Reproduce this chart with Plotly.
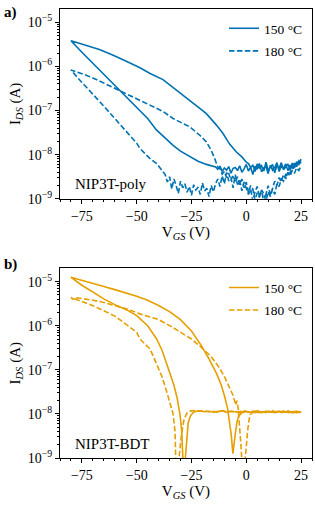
import plotly.graph_objects as go

# ---------------- data (log10 of I_DS in A) ----------------
# Panel a) NIP3T-poly, 150 °C : sweep +25 -> -80 (upper branch), then -80 -> +25 (lower branch)
a150_v_up_noise = list(range(25, 0, -1))
a150_i_up_noise = [-8.10,-8.22,-8.16,-8.30,-8.19,-8.36,-8.21,-8.27,-8.34,-8.18,-8.31,-8.24,-8.41,
                   -8.22,-8.28,-8.35,-8.17,-8.37,-8.25,-8.30,-8.21,-8.38,-8.24,-8.29,-8.20]
a150_v_up = [0,-2,-4.5,-7.6,-10.6,-13.6,-18.2,-21.2,-25,-28.8,-33.4,-38,-43.9,-48.5,-55,-61,-67,-73,-80]
a150_i_up = [-8.17,-8.05,-7.94,-7.76,-7.52,-7.33,-7.07,-6.95,-6.80,-6.66,-6.46,-6.30,-6.16,-6.03,-5.88,-5.74,-5.62,-5.52,-5.42]
a150_v_lo = [-75,-70,-65,-60,-55,-50,-45,-41,-37,-33.4,-30,-25.8,-22,-18.2,-15]
a150_i_lo = [-5.68,-5.93,-6.18,-6.43,-6.67,-6.92,-7.18,-7.44,-7.63,-7.79,-7.92,-8.05,-8.15,-8.22,-8.27]
a150_v_lo_noise = list(range(-14, 26))
a150_i_lo_noise = [-8.28,-8.33,-8.26,-8.38,-8.30,-8.35,-8.27,-8.42,-8.31,-8.29,-8.36,-8.25,-8.40,-8.32,
                   -8.22,-8.37,-8.28,-8.45,-8.26,-8.33,-8.20,-8.39,-8.30,-8.27,-8.43,-8.24,-8.35,-8.29,
                   -8.18,-8.38,-8.26,-8.32,-8.21,-8.36,-8.25,-8.30,-8.19,-8.27,-8.14,-8.20]

# Panel a) 180 °C
a180_v_up_noise = list(range(25, -13, -1))
a180_i_up_noise = [-8.15,-8.20,-8.17,-8.28,-8.35,-8.40,-8.50,-8.45,-8.60,-8.55,-8.72,-8.66,-8.90,
                   -8.78,-8.95,-8.84,-9.05,-8.88,-8.80,-8.97,-8.86,-9.03,-8.78,-8.70,-8.86,-8.62,
                   -8.75,-8.55,-8.68,-8.50,-8.63,-8.46,-8.58,-8.42,-8.52,-8.38,-8.44,-8.32]
a180_v_up = [-13,-14.4,-16,-18.2,-21.2,-25.8,-29.5,-33.4,-38,-43.9,-48.5,-55,-60.6,-67,-73,-80]
a180_i_up = [-8.28,-8.09,-7.90,-7.71,-7.56,-7.37,-7.27,-7.18,-7.02,-6.88,-6.76,-6.60,-6.48,-6.33,-6.20,-6.08]
a180_v_lo = [-76,-70,-65,-60,-55,-50,-48.5,-43.9,-40.9,-38]
a180_i_lo = [-6.31,-6.62,-6.90,-7.18,-7.46,-7.74,-7.86,-8.09,-8.20,-8.38]
a180_v_lo_noise = list(range(-37, 26))
a180_i_lo_noise = [-8.45,-8.62,-8.50,-8.78,-8.55,-8.70,-8.88,-8.60,
                   -8.75,-8.66,-8.85,-8.72,-8.92,-8.68,-8.80,-8.74,-8.90,-8.64,-8.82,-8.76,-8.95,-8.70,-8.84,-8.66,
                   -8.55,-8.72,-8.48,-8.66,-8.40,-8.60,-8.52,-8.75,-8.45,-8.68,-8.58,-8.82,-8.62,-8.76,
                   -8.90,-8.78,-9.05,-8.84,-8.72,-8.95,-8.80,-9.08,-8.86,-8.70,-8.92,-8.76,
                   -8.60,-8.70,-8.52,-8.62,-8.45,-8.55,-8.40,-8.48,-8.35,-8.42,-8.30,-8.36,-8.25]

# Panel b) NIP3T-BDT, 150 °C : +25 -> plateau -> dip -> outer branch -> -80 -> inner branch -> dip -> plateau -> +25
b150_v_pl1 = list(range(25, -3, -1))
b150_i_pl1 = [-7.97,-7.95,-7.96,-7.94,-7.97,-7.95,-7.93,-7.96,-7.95,-7.97,-7.94,-7.96,-7.95,-7.93,
              -7.96,-7.94,-7.97,-7.95,-7.96,-7.94,-7.95,-7.97,-7.94,-7.96,-7.95,-7.94,-7.96,-7.97]
b150_v_out = [-3.5,-4.3,-5,-5.6,-6.1,-6.8,-7.6,-8.5,-9.9,-11.5,-13.6,-17,-20.5,-25,-30,-35,-40,-45,-50,-55,-60,-65,-70,-75,-80]
b150_i_out = [-8.05,-8.20,-8.45,-8.70,-8.90,-8.50,-8.15,-7.88,-7.60,-7.33,-7.08,-6.75,-6.45,-6.12,-5.86,
              -5.68,-5.54,-5.42,-5.33,-5.25,-5.18,-5.11,-5.04,-4.97,-4.90]
b150_v_in = [-75,-70,-65,-60,-54.5,-50,-45,-40.9,-38.5,-36.4,-34.9,-33,-31.5,-30.3,-29.5,-28.8,-28.4,
             -27.8,-27.2,-26.5,-25.5,-24.3]
b150_i_in = [-5.08,-5.24,-5.39,-5.52,-5.64,-5.77,-6.00,-6.30,-6.55,-6.85,-7.05,-7.35,-7.65,-8.00,-8.35,
             -9.00,-9.60,-9.00,-8.55,-8.20,-8.05,-7.97]
b150_v_pl2 = list(range(-23, 26, 2))
b150_i_pl2 = [-7.94,-7.93,-7.95,-7.94,-7.96,-7.95,-7.93,-7.96,-7.94,-7.95,-7.97,-7.94,-7.96,
              -7.95,-7.93,-7.96,-7.94,-7.95,-7.97,-7.95,-7.94,-7.96,-7.95,-7.97,-7.96]

# Panel b) 180 °C
b180_v_pl1 = list(range(25, 2, -2))
b180_i_pl1 = [-7.96,-7.94,-7.95,-7.97,-7.94,-7.96,-7.95,-7.93,-7.96,-7.95,-7.97,-7.96]
b180_v_out = [1.8,1.2,0.6,0,-0.8,-1.5,-2.3,-3,-3.7,-4.3,-4.8,-6,-7.6,-10,-12.3,-16,-20.5,-25,-27.3,
              -33.4,-40,-48.5,-54.5,-60,-65,-70,-75,-78,-79,-80]
b180_i_out = [-8.02,-8.15,-8.40,-8.80,-9.50,-9.60,-8.80,-8.20,-7.86,-7.70,-7.80,-7.58,-7.40,-7.15,-6.95,
              -6.70,-6.49,-6.30,-6.23,-6.04,-5.86,-5.73,-5.62,-5.54,-5.47,-5.42,-5.38,-5.36,-5.40,-5.36]
b180_v_in = [-75,-69.7,-65,-60,-54.5,-50,-48.5,-43.9,-40.9,-38.5,-36.4,-34.8,-33.4,-32.5,-31.9,-31.2,
             -30.5,-29.5,-28.5,-27.5,-26.5]
b180_i_in = [-5.45,-5.55,-5.66,-5.78,-5.98,-6.15,-6.30,-6.53,-6.87,-7.15,-7.48,-7.75,-8.00,-8.40,-9.60,
             -9.40,-8.90,-8.45,-8.15,-8.02,-7.95]
b180_v_pl2 = list(range(-25, 26, 2))
b180_i_pl2 = [-7.93,-7.92,-7.94,-7.93,-7.95,-7.94,-7.96,-7.93,-7.95,-7.94,-7.96,-7.95,-7.93,
              -7.96,-7.94,-7.95,-7.97,-7.94,-7.96,-7.95,-7.94,-7.96,-7.95,-7.97,-7.96,-7.95]

labels = ["150 °C", "180 °C"]
y_decades = [-9, -8, -7, -6, -5]
x_ticks = [-75, -50, -25, 0, 25]

BLUE = "#0072B2"
ORANGE = "#E69F00"
SERIF = "Liberation Serif"
DASH = "5.5px,2.4px"


def join(*parts):
    vs, ls = [], []
    for v, l in parts:
        assert len(v) == len(l), (len(v), len(l))
        vs += list(v)
        ls += list(l)
    return vs, [10 ** x for x in ls]


traces = [
    (join((a150_v_up_noise, a150_i_up_noise), (a150_v_up, a150_i_up), (a150_v_lo, a150_i_lo),
          (a150_v_lo_noise, a150_i_lo_noise)), BLUE, "solid", labels[0], "x", "y", "legend", "a1"),
    (join((a180_v_up_noise, a180_i_up_noise), (a180_v_up, a180_i_up), (a180_v_lo, a180_i_lo),
          (a180_v_lo_noise, a180_i_lo_noise)), BLUE, DASH, labels[1], "x", "y", "legend", "a2"),
    (join((b150_v_pl1, b150_i_pl1), (b150_v_out, b150_i_out), (b150_v_in, b150_i_in),
          (b150_v_pl2, b150_i_pl2)), ORANGE, "solid", labels[0], "x2", "y2", "legend2", "b1"),
    (join((b180_v_pl1, b180_i_pl1), (b180_v_out, b180_i_out), (b180_v_in, b180_i_in),
          (b180_v_pl2, b180_i_pl2)), ORANGE, DASH, labels[1], "x2", "y2", "legend2", "b2"),
]

fig = go.Figure()
for (xv, yv), col, dash, name, xa, ya, lg, grp in traces:
    fig.add_trace(go.Scatter(x=xv, y=yv, mode="lines", name=name, xaxis=xa, yaxis=ya, legend=lg,
                             legendgroup=grp, line=dict(color=col, width=1.6, dash=dash)))

W, H = 315, 506
L, R, T, B = 60, 2.5, 9, 48.3
pw, ph = W - L - R, H - T - B


def px(p):
    return (p - L) / pw


def py(p):
    return (H - B - p) / ph


dom_a = [py(198.7), 1.0]
dom_b = [0.0, py(268.3)]

tickfont = dict(family=SERIF, size=14, color="black")
minor_vals = [k * 10.0 ** d for d in range(-9, -4) for k in range(2, 10)]

common_x = dict(range=[-85, 30], tickvals=x_ticks, ticktext=[("−" + str(-t)) if t < 0 else str(t) for t in x_ticks],
                ticks="outside", ticklen=4, tickwidth=1, tickcolor="black",
                minor=dict(ticks="outside", ticklen=2.2, tickwidth=0.8, tickcolor="black", dtick=5, tick0=0),
                showline=True, linecolor="black", linewidth=1.2, mirror=True, showgrid=False, zeroline=False,
                tickfont=tickfont,
                title=dict(text="V<sub><i>GS</i></sub> (V)", font=dict(family=SERIF, size=15, color="black"), standoff=3))
common_y = dict(type="log", range=[-9, -4.7], tickvals=[10.0 ** d for d in y_decades],
                ticktext=["10<sup>−%d</sup>" % (-d) for d in y_decades],
                ticks="outside", ticklen=4, tickwidth=1, tickcolor="black",
                minor=dict(ticks="outside", ticklen=2.2, tickwidth=0.8, tickcolor="black", tickvals=minor_vals),
                showline=True, linecolor="black", linewidth=1.2, mirror=True, showgrid=False, zeroline=False,
                tickfont=tickfont,
                title=dict(text="I<sub><i>DS</i></sub> (A)", font=dict(family=SERIF, size=15, color="black"), standoff=3))

legend_common = dict(xanchor="right", yanchor="top", bgcolor="rgba(0,0,0,0)",
                     font=dict(family=SERIF, size=13.5, color="black"), tracegroupgap=2, itemwidth=30)

fig.update_layout(
    width=W, height=H, margin=dict(l=L, r=R, t=T, b=B, autoexpand=False),
    paper_bgcolor="white", plot_bgcolor="white",
    font=dict(family=SERIF, color="black"),
    xaxis=dict(domain=[0, 1], anchor="y", **common_x),
    yaxis=dict(domain=dom_a, anchor="x", **common_y),
    xaxis2=dict(domain=[0, 1], anchor="y2", **common_x),
    yaxis2=dict(domain=dom_b, anchor="x2", **common_y),
    legend=dict(x=px(308.5), y=py(13), **legend_common),
    legend2=dict(x=px(308.5), y=py(272), **legend_common),
    showlegend=True,
)

annots = [
    ("<b>a)</b>", 2, 12, 15),
    ("<b>b)</b>", 2, 264, 15),
    ("NIP3T-poly", 73, 184, 15),
    ("NIP3T-BDT", 73, 444, 15),
]
for txt, x0, y0, fs in annots:
    fig.add_annotation(text=txt, x=px(x0), y=py(y0), xref="paper", yref="paper", xanchor="left",
                       yanchor="middle", showarrow=False, font=dict(family=SERIF, size=fs, color="black"))

fig.write_html("out.html", config={"displayModeBar": False},
               post_script="document.body.style.margin='0px';document.body.style.overflow='hidden';")
